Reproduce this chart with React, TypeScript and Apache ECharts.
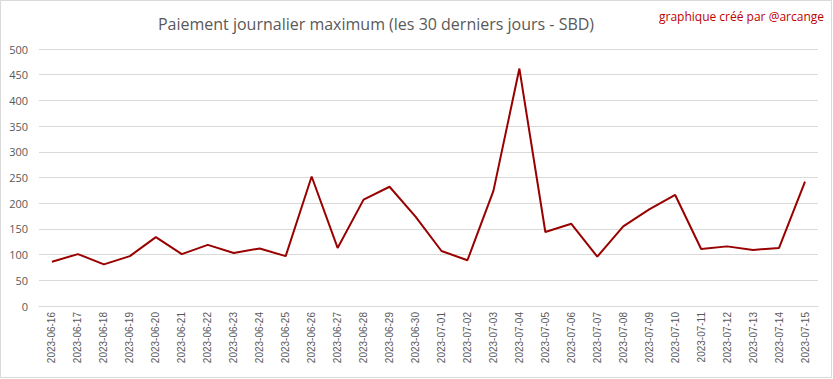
import React, { useEffect, useRef } from "react";
import * as echarts from "echarts";

const dates = [
  "2023-06-16","2023-06-17","2023-06-18","2023-06-19","2023-06-20","2023-06-21",
  "2023-06-22","2023-06-23","2023-06-24","2023-06-25","2023-06-26","2023-06-27",
  "2023-06-28","2023-06-29","2023-06-30","2023-07-01","2023-07-02","2023-07-03",
  "2023-07-04","2023-07-05","2023-07-06","2023-07-07","2023-07-08","2023-07-09",
  "2023-07-10","2023-07-11","2023-07-12","2023-07-13","2023-07-14","2023-07-15",
];
const maxPayout = [
  86, 101, 81, 97, 134, 101, 119, 103, 112, 97, 252, 113, 207, 232, 174,
  107, 89, 224, 462, 144, 160, 96, 155, 188, 216, 111, 116, 109, 113, 242,
];
const titleText = "Paiement journalier maximum (les 30 derniers jours - SBD)";
const creditText = "graphique créé par @arcange";

export default function App() {
  const ref = useRef<HTMLDivElement>(null);
  useEffect(() => {
    document.body.style.margin = "0";
    const chart = echarts.init(ref.current!, null, { renderer: "svg" });
    chart.setOption({
      animation: false,
      backgroundColor: "#ffffff",
      title: {
        text: titleText,
        left: 371,
        textAlign: "center",
        top: 11,
        textStyle: { fontFamily: "Open Sans", fontSize: 16, fontWeight: "normal", color: "#595959" },
      },
      graphic: [
        {
          type: "rect",
          shape: { x: 0.5, y: 0.5, width: 831, height: 377 },
          style: { fill: "none", stroke: "#d9d9d9", lineWidth: 1 },
          silent: true,
        },
        {
          type: "text",
          right: 9,
          top: 10,
          style: { text: creditText, fill: "#c00000", font: "12px 'Open Sans'" },
        },
      ],
      grid: { left: 39, right: 15, top: 49, bottom: 73 },
      xAxis: {
        type: "category",
        data: dates,
        boundaryGap: true,
        axisLine: { lineStyle: { color: "#d9d9d9" } },
        axisTick: { show: false },
        axisLabel: {
          rotate: 90,
          interval: 0,
          color: "#595959",
          fontFamily: "Liberation Sans",
          fontSize: 10,
          margin: 6,
        },
      },
      yAxis: {
        type: "value",
        min: 0,
        max: 500,
        interval: 50,
        axisLine: { show: false },
        axisTick: { show: false },
        splitLine: { lineStyle: { color: "#d9d9d9" } },
        axisLabel: { color: "#595959", fontFamily: "Open Sans", fontSize: 11, margin: 11 },
      },
      series: [
        {
          type: "line",
          data: maxPayout,
          symbol: "none",
          lineStyle: { color: "#990000", width: 2 },
        },
      ],
    });
    return () => chart.dispose();
  }, []);
  return <div ref={ref} style={{ width: 833, height: 379 }} />;
}
